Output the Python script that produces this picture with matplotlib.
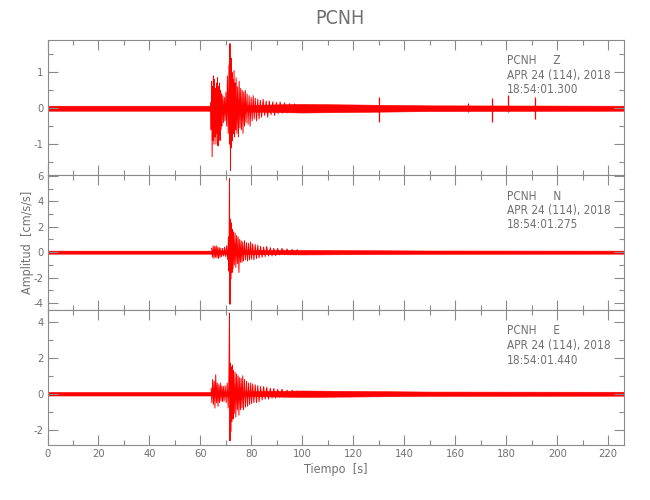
import matplotlib
matplotlib.use("Agg")
import matplotlib.pyplot as plt
from matplotlib.ticker import MultipleLocator

plt.rcParams["font.family"] = ["DejaVu Sans"]
plt.rcParams["font.stretch"] = "condensed"
plt.rcParams["axes.unicode_minus"] = False

# ---- data ----
station = "PCNH"
components = ["Z", "N", "E"]
start_times = ["18:54:01.300", "18:54:01.275", "18:54:01.440"]
date_label = "APR 24 (114), 2018"

# background noise envelope (half width, cm/s/s)
floor_t = [0, 64, 100, 150, 226]
floor_z = [0.07, 0.07, 0.12, 0.08, 0.07]
floor_n = [0.12, 0.12, 0.18, 0.13, 0.12]
floor_e = [0.10, 0.10, 0.18, 0.12, 0.11]

# peak-to-peak swings in the event window (s, cm/s/s)
z_t = [64.0, 64.2, 64.4, 64.6, 64.8, 65.0, 65.1, 65.3, 65.5, 65.7, 65.9, 66.1, 66.3, 66.5,
       66.7, 66.9, 67.1, 67.3, 67.5, 67.7, 67.9, 68.1, 68.3, 68.5, 68.8, 69.1, 69.4, 69.7,
       70.0, 70.3, 70.6, 70.9, 71.2, 71.4, 71.6, 71.8, 72.0, 72.2, 72.4, 72.6, 72.8, 73.0,
       73.2, 73.4, 73.6, 73.8, 74.0, 74.3, 74.6, 74.9, 75.2, 75.5, 75.8, 76.1, 76.4, 76.7,
       77.0, 77.3, 77.6, 77.9, 78.3, 78.7, 79.1, 79.5, 79.9, 80.3, 80.7, 81.1, 81.5, 82.0,
       82.5, 83.0, 83.5, 84.0, 84.6, 85.2, 85.8, 86.4, 87.0, 87.7, 88.4, 89.1, 89.8, 90.5,
       91.3, 92.1, 93.0, 94.0, 95.0, 96.0, 97.0, 98.0]
z_v = [0.15, -0.6, 0.75, -1.35, 0.6, -0.9, 0.9, -1.0, 0.8, -0.8, 0.55, -1.0, 0.7, -0.7,
       0.85, -1.05, 0.6, -0.75, 0.7, -0.9, 0.5, -0.6, 0.4, -0.5, 0.35, -0.4, 0.3, -0.35,
       0.45, -0.5, 0.9, -0.7, 1.2, -1.0, 1.8, -1.73, 1.4, -1.1, 1.0, -0.9, 0.8, -0.7,
       1.05, -0.8, 0.7, -0.6, 0.85, -0.7, 0.6, -0.8, 0.75, -0.55, 0.55, -0.6, 0.5, -0.7,
       0.45, -0.5, 0.5, -0.4, 0.4, -0.45, 0.35, -0.5, 0.3, -0.35, 0.35, -0.3, 0.28, -0.35,
       0.25, -0.3, 0.22, -0.25, 0.25, -0.2, 0.2, -0.25, 0.2, -0.18, 0.18, -0.2, 0.16, -0.15,
       0.17, -0.14, 0.15, -0.13, 0.13, -0.12, 0.12, -0.1]

n_t = [64.4, 64.7, 65.0, 65.3, 65.6, 65.9, 66.2, 66.5, 66.8, 67.1, 67.4, 67.7, 68.0, 68.3,
       68.7, 69.1, 69.5, 69.9, 70.3, 70.7, 71.0, 71.2, 71.4, 71.6, 71.8, 72.0, 72.2, 72.4,
       72.6, 72.8, 73.0, 73.3, 73.6, 73.9, 74.2, 74.5, 74.8, 75.1, 75.4, 75.7, 76.0, 76.3,
       76.6, 76.9, 77.3, 77.7, 78.1, 78.5, 78.9, 79.3, 79.7, 80.1, 80.5, 81.0, 81.5, 82.0,
       82.5, 83.0, 83.6, 84.2, 84.8, 85.4, 86.0, 86.7, 87.4, 88.1, 88.8, 89.5, 90.3, 91.1,
       92.0, 93.0, 94.0, 95.0, 96.0, 97.0, 98.0]
n_v = [0.3, -0.4, 0.5, -0.5, 0.45, -0.4, 0.5, -0.45, 0.4, -0.5, 0.35, -0.4, 0.3, -0.35,
       0.3, -0.3, 0.4, -0.35, 0.5, -0.6, 1.2, -1.5, 5.8, -4.1, 2.6, -2.1, 2.3, -1.6,
       1.8, -1.3, 1.6, -1.0, 1.5, -1.2, 1.3, -0.9, 1.2, -1.6, 1.0, -0.8, 0.9, -0.8,
       0.8, -0.7, 0.9, -0.6, 0.75, -0.7, 0.7, -0.6, 0.8, -0.55, 0.65, -0.6, 0.6, -0.5,
       0.55, -0.45, 0.45, -0.4, 0.4, -0.35, 0.45, -0.3, 0.35, -0.3, 0.3, -0.28, 0.3, -0.22,
       0.3, -0.2, 0.25, -0.2, 0.22, -0.18, 0.2]

e_t = [64.2, 64.5, 64.8, 65.1, 65.4, 65.7, 66.0, 66.3, 66.6, 66.9, 67.2, 67.5, 67.8, 68.1,
       68.4, 68.7, 69.0, 69.3, 69.7, 70.1, 70.5, 70.9, 71.2, 71.4, 71.6, 71.8, 72.0, 72.2,
       72.4, 72.6, 72.8, 73.0, 73.3, 73.6, 73.9, 74.2, 74.5, 74.8, 75.1, 75.4, 75.7, 76.0,
       76.3, 76.6, 76.9, 77.3, 77.7, 78.1, 78.5, 78.9, 79.3, 79.7, 80.1, 80.5, 81.0, 81.5,
       82.0, 82.5, 83.0, 83.6, 84.2, 84.8, 85.4, 86.0, 86.7, 87.4, 88.1, 88.8, 89.5, 90.3,
       91.1, 92.0, 93.0, 94.0, 95.0, 96.0, 97.0, 98.0]
e_v = [0.3, -0.5, 0.8, -0.6, 0.7, -0.8, 1.06, -0.5, 0.6, -0.7, 0.5, -0.5, 0.6, -0.4,
       0.45, -0.45, 0.4, -0.4, 0.45, -0.5, 0.6, -0.8, 1.2, 4.5, -2.63, 1.7, -2.1, 1.5,
       -1.55, 1.6, -1.4, 1.3, -1.1, 1.2, -1.3, 1.1, -0.9, 1.0, -1.2, 0.9, -0.9, 0.85,
       -0.8, 1.0, -0.9, 0.8, -0.75, 0.7, -0.7, 0.6, -0.6, 0.6, -0.55, 0.55, -0.5, 0.5,
       -0.5, 0.45, -0.45, 0.4, -0.35, 0.4, -0.3, 0.35, -0.3, 0.3, -0.25, 0.3, -0.25, 0.25,
       -0.2, 0.25, -0.2, 0.2, -0.18, 0.2, -0.15, 0.15]

# isolated glitches on the vertical channel
spike_t = [130.0, 164.8, 174.3, 180.5, 191.3]
spike_hi = [0.30, 0.15, 0.29, 0.36, 0.32]
spike_lo = [-0.37, -0.10, -0.37, -0.10, -0.30]

ylims = [(-1.86, 1.9), (-4.55, 6.07), (-2.86, 4.67)]
y_major = [1, 2, 2]
y_minor = [0.5, 1, 1]

RED = "#ff0000"
AXC = "#8a8a8a"
TXC = "#707070"
W, H = 650, 500

fig = plt.figure(figsize=(6.5, 5), dpi=100, facecolor="white")

panel_top = [40, 175, 310]
panel_h = 135
left, right = 47.5, 623.5

traces = [(z_t, z_v, floor_z), (n_t, n_v, floor_n), (e_t, e_v, floor_e)]
axes = []
for i, (tt, vv, fl) in enumerate(traces):
    ax = fig.add_axes([left / W, 1 - (panel_top[i] + panel_h) / H,
                       (right - left) / W, panel_h / H])
    axes.append(ax)
    lo = [-a for a in fl]
    ax.fill_between(floor_t, lo, fl, color=RED, lw=0.4)
    ax.plot(tt, vv, color=RED, lw=0.7)
    if i == 0:
        ax.vlines(spike_t, spike_lo, spike_hi, colors=RED, lw=0.9)
    ax.set_xlim(0, 226)
    ax.set_ylim(*ylims[i])
    ax.xaxis.set_major_locator(MultipleLocator(20))
    ax.xaxis.set_minor_locator(MultipleLocator(10))
    ax.yaxis.set_major_locator(MultipleLocator(y_major[i]))
    ax.yaxis.set_minor_locator(MultipleLocator(y_minor[i]))
    ax.tick_params(which="both", direction="in", top=True, right=True,
                   color=AXC, labelcolor=TXC, labelsize=8, width=0.8, pad=3)
    ax.tick_params(which="major", length=7)
    ax.tick_params(which="minor", length=3.5)
    for s in ax.spines.values():
        s.set_color(AXC)
        s.set_linewidth(0.8)
    if i < 2:
        ax.tick_params(labelbottom=False)

    y0 = panel_top[i]
    lines = [f"{station}     {components[i]}", date_label, start_times[i]]
    for k, txt in enumerate(lines):
        fig.text(507 / W, 1 - (y0 + 21 + 14.5 * k) / H, txt, color=TXC,
                 fontsize=8.5, va="center", ha="left")

axes[2].set_xlabel("Tiempo  [s]", color=TXC, fontsize=9, labelpad=3)
fig.text(27 / W, 1 - 242 / H, "Amplitud  [cm/s/s]", rotation=90, color=TXC,
         fontsize=9, ha="center", va="center")
fig.text(340 / W, 1 - 18 / H, station, color=TXC, fontsize=14,
         ha="center", va="center")

fig.savefig("out.png", dpi=100, facecolor="white")
